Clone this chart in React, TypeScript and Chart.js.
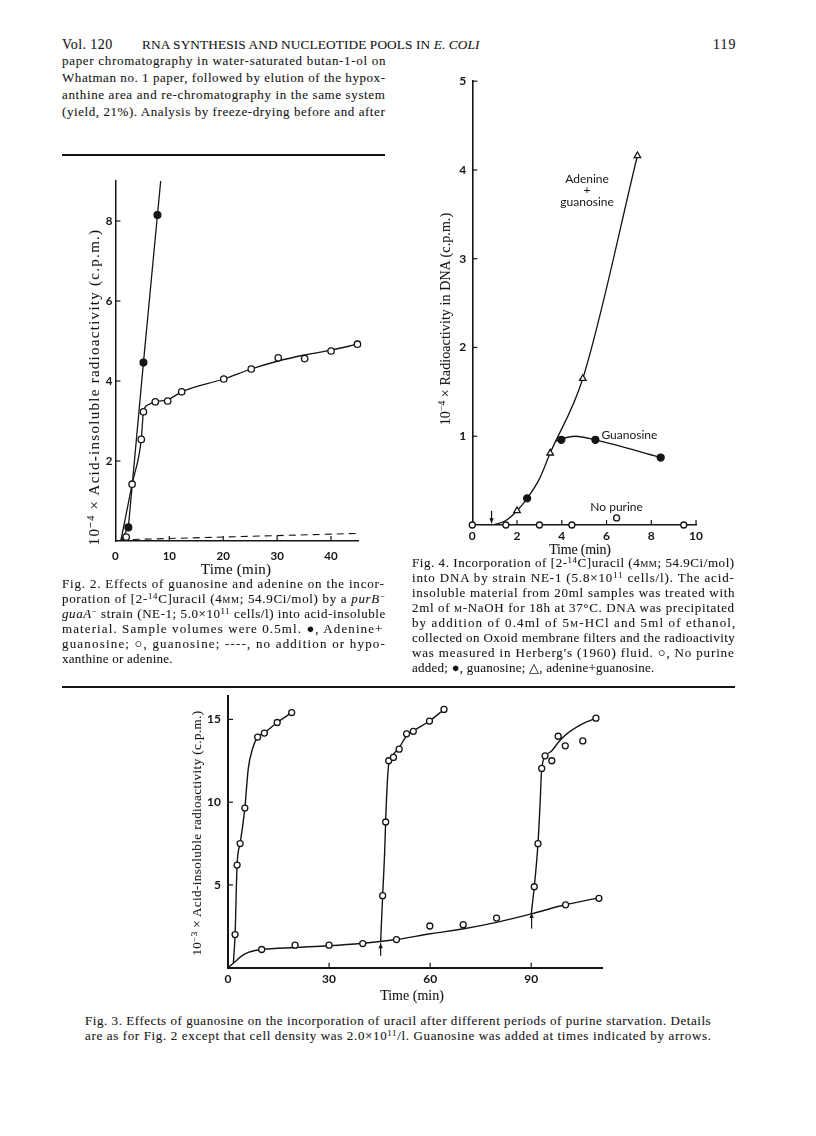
import React, { useEffect, useLayoutEffect, useRef, useState } from "react";
import { Chart, registerables } from "chart.js";

Chart.register(...registerables);

// ---------------- Fig. 2 data ----------------
const fig2XTicks = [0, 10, 20, 30, 40];
const fig2YTicks = [2, 4, 6, 8];
const fig2AdenineX = [2.4, 5.2, 7.8];
const fig2AdenineY = [0.34, 4.46, 8.15];
const fig2GuanosineX = [2.0, 3.1, 4.8, 5.2, 7.4, 9.7, 12.3, 20.1, 25.2, 30.2, 35.1, 40.0, 44.9];
const fig2GuanosineY = [0.1, 1.42, 2.54, 3.23, 3.48, 3.5, 3.73, 4.05, 4.3, 4.58, 4.56, 4.75, 4.92];
const fig2AdenineCurveX = [1.0, 2.4, 5.2, 7.8, 8.4];
const fig2AdenineCurveY = [0, 0.34, 4.46, 8.15, 9.0];
const fig2GuanosineCurveX = [1.0, 3.1, 4.8, 5.2, 6.0, 7.4, 9.7, 12.3, 20.1, 25.2, 30.2, 35.1, 40.0, 44.9];
const fig2GuanosineCurveY = [0, 1.42, 2.54, 3.23, 3.4, 3.48, 3.53, 3.73, 4.05, 4.3, 4.5, 4.65, 4.77, 4.92];
const fig2NoAdditionX = [1.0, 45];
const fig2NoAdditionY = [0.03, 0.19];

// ---------------- Fig. 4 data ----------------
const fig4XTicks = [0, 2, 4, 6, 8, 10];
const fig4YTicks = [1, 2, 3, 4, 5];
const fig4NoPurineX = [0, 1.5, 3.0, 4.45, 6.45, 9.45];
const fig4NoPurineY = [0, 0, 0, 0, 0.08, 0];
const fig4GuanosineX = [2.45, 3.98, 5.5, 8.42];
const fig4GuanosineY = [0.3, 0.96, 0.96, 0.76];
const fig4AdenGuanX = [2.0, 3.48, 4.94, 7.38];
const fig4AdenGuanY = [0.16, 0.81, 1.65, 4.16];
const fig4AdenGuanCurveX = [0.9, 1.5, 2.0, 2.45, 3.0, 3.48, 4.94, 7.38];
const fig4AdenGuanCurveY = [0, 0.05, 0.16, 0.3, 0.52, 0.81, 1.65, 4.16];
const fig4GuanosineCurveX = [3.7, 3.98, 4.6, 5.5, 8.42];
const fig4GuanosineCurveY = [0.94, 0.97, 1.0, 0.96, 0.76];
const fig4ArrowX = [0.86];
const fig4ArrowFrom = [0.16];
const fig4ArrowTo = [0.02];
const fig4LabelText = ["Adenine", "+", "guanosine", "Guanosine", "No purine"];
const fig4LabelX = [5.13, 5.13, 5.13, 7.02, 6.45];
const fig4LabelY = [3.9, 3.77, 3.64, 1.01, 0.2];

// ---------------- Fig. 3 data ----------------
const fig3XTicks = [0, 30, 60, 90];
const fig3YTicks = [5, 10, 15];
const fig3BaseX = [10.0, 19.9, 30.0, 40.0, 50.0, 59.9, 69.8, 79.7, 100.2, 110.1];
const fig3BaseY = [1.1, 1.36, 1.36, 1.46, 1.7, 2.52, 2.6, 3.0, 3.8, 4.19];
const fig3Added0X = [2.1, 2.7, 3.6, 5.0, 8.8, 10.8, 14.6, 18.9];
const fig3Added0Y = [2.0, 6.2, 7.5, 9.64, 13.93, 14.17, 14.81, 15.41];
const fig3Added45X = [45.9, 46.8, 47.7, 49.1, 50.8, 53.0, 55.0, 59.8, 64.1];
const fig3Added45Y = [4.35, 8.8, 12.5, 12.7, 13.2, 14.13, 14.28, 14.9, 15.6];
const fig3Added90X = [90.9, 92.0, 93.1, 94.1, 96.1, 98.0, 100.1, 105.3, 109.2];
const fig3Added90Y = [4.89, 7.49, 12.04, 12.8, 12.5, 13.98, 13.4, 13.7, 15.07];
const fig3BaseCurveX = [0, 2, 4, 6, 8, 10, 20, 30, 40, 45, 50, 60, 70, 80, 90, 100, 110];
const fig3BaseCurveY = [0, 0.35, 0.7, 0.92, 1.04, 1.1, 1.22, 1.33, 1.48, 1.58, 1.7, 2.05, 2.35, 2.75, 3.25, 3.8, 4.22];
const fig3Curve0X = [1.6, 2.1, 2.7, 3.6, 5.0, 6.0, 7.4, 8.8, 10.8, 14.6, 18.9];
const fig3Curve0Y = [0.3, 2.0, 6.2, 7.5, 9.64, 12.0, 13.3, 13.93, 14.2, 14.81, 15.41];
const fig3Curve45X = [45.3, 45.9, 46.5, 46.9, 47.7, 49.1, 50.8, 53.0, 55.0, 59.8, 64.1];
const fig3Curve45Y = [1.58, 4.35, 7.0, 9.5, 12.3, 12.9, 13.3, 14.0, 14.3, 14.9, 15.6];
const fig3Curve90X = [90.0, 90.9, 92.0, 92.6, 93.1, 94.5, 96.1, 98.0, 100.1, 104.9, 109.2];
const fig3Curve90Y = [3.25, 4.89, 7.49, 9.8, 12.0, 12.85, 13.1, 13.6, 14.05, 14.7, 15.07];
const fig3ArrowX = [45.3, 90.1];
const fig3ArrowFrom = [0.72, 2.36];
const fig3ArrowTo = [1.48, 3.3];

// ---------------- helpers ----------------
const ink = "#151515";
const serif = '"Liberation Serif", "DejaVu Serif", serif';
const sans = 'Lato, "Open Sans", "DejaVu Sans", sans-serif';

const pts = (xs: number[], ys: number[]) => xs.map((x, i) => ({ x, y: ys[i] }));

function pointSet(xs: number[], ys: number[], kind: "open" | "filled" | "triangle", r = 3.2) {
  return {
    data: pts(xs, ys),
    showLine: false,
    pointStyle: kind === "triangle" ? "triangle" : "circle",
    pointRadius: r,
    pointBackgroundColor: kind === "filled" ? ink : "#ffffff",
    pointBorderColor: ink,
    pointBorderWidth: 1.3,
    clip: 10,
    order: 1,
  };
}

function lineSet(xs: number[], ys: number[], smooth = true, dash: number[] = [], width = 1.3) {
  return {
    data: pts(xs, ys),
    showLine: true,
    pointRadius: 0,
    borderColor: ink,
    borderWidth: width,
    borderDash: dash,
    cubicInterpolationMode: smooth ? "monotone" : "default",
    tension: 0,
    fill: false,
    order: 2,
  };
}

const innerTicks = {
  id: "innerTicks",
  afterDatasetsDraw(chart: any, _args: any, opts: any) {
    const { ctx, chartArea } = chart;
    const xs = chart.scales.x;
    const ys = chart.scales.y;
    ctx.save();
    ctx.strokeStyle = ink;
    ctx.lineWidth = opts.width || 1.2;
    const len = opts.len || 5;
    for (const t of xs.ticks) {
      if (t.value === xs.min) continue;
      const px = xs.getPixelForValue(t.value);
      ctx.beginPath();
      ctx.moveTo(px, chartArea.bottom);
      ctx.lineTo(px, chartArea.bottom - len);
      ctx.stroke();
    }
    for (const t of ys.ticks) {
      if (t.value === ys.min) continue;
      const py = ys.getPixelForValue(t.value);
      ctx.beginPath();
      ctx.moveTo(chartArea.left, py);
      ctx.lineTo(chartArea.left + len, py);
      ctx.stroke();
    }
    ctx.restore();
  },
};

const arrowsPlugin = {
  id: "arrows",
  afterDatasetsDraw(chart: any, _args: any, opts: any) {
    const items = (opts && opts.items) || [];
    if (!items.length) return;
    const { ctx } = chart;
    const xs = chart.scales.x;
    const ys = chart.scales.y;
    ctx.save();
    ctx.strokeStyle = ink;
    ctx.fillStyle = ink;
    ctx.lineWidth = 1.2;
    for (const a of items) {
      const px = xs.getPixelForValue(a.x);
      const y1 = ys.getPixelForValue(a.from);
      const y2 = ys.getPixelForValue(a.to);
      const dir = y2 > y1 ? 1 : -1;
      ctx.beginPath();
      ctx.moveTo(px, y1);
      ctx.lineTo(px, y2);
      ctx.stroke();
      ctx.beginPath();
      ctx.moveTo(px, y2);
      ctx.lineTo(px - 2.2, y2 - dir * 5);
      ctx.lineTo(px + 2.2, y2 - dir * 5);
      ctx.closePath();
      ctx.fill();
    }
    ctx.restore();
  },
};

const textsPlugin = {
  id: "texts",
  afterDatasetsDraw(chart: any, _args: any, opts: any) {
    const items = (opts && opts.items) || [];
    if (!items.length) return;
    const { ctx } = chart;
    const xs = chart.scales.x;
    const ys = chart.scales.y;
    ctx.save();
    ctx.fillStyle = ink;
    ctx.font = opts.font;
    ctx.textAlign = "center";
    ctx.textBaseline = "middle";
    for (const t of items) {
      ctx.fillText(t.text, xs.getPixelForValue(t.x), ys.getPixelForValue(t.y));
    }
    ctx.restore();
  },
};

function buildConfig(spec: any) {
  const tickFont = { family: sans, size: spec.tickSize, weight: "bold" };
  return {
    type: "scatter",
    data: { datasets: spec.datasets },
    plugins: [innerTicks, arrowsPlugin, textsPlugin],
    options: {
      animation: false,
      responsive: false,
      maintainAspectRatio: false,
      devicePixelRatio: 1,
      events: [],
      layout: { padding: { top: spec.padTop, right: spec.padRight, left: 0, bottom: 0 } },
      plugins: {
        legend: { display: false },
        tooltip: { enabled: false },
        innerTicks: { len: 5, width: 1.2 },
        arrows: { items: spec.arrows || [] },
        texts: { items: spec.texts || [], font: `12px ${sans}` },
      },
      scales: {
        x: {
          type: "linear",
          min: spec.xMin,
          max: spec.xMax,
          grid: { display: false, drawTicks: false },
          border: { display: true, color: ink, width: spec.axisWidth },
          ticks: { padding: spec.xPad, font: tickFont, color: ink, maxRotation: 0, autoSkip: false },
          afterBuildTicks: (s: any) => {
            s.ticks = spec.xTicks.map((v: number) => ({ value: v }));
          },
          afterFit: (s: any) => {
            s.height = spec.xH;
          },
        },
        y: {
          type: "linear",
          min: spec.yMin,
          max: spec.yMax,
          grid: { display: false, drawTicks: false },
          border: { display: true, color: ink, width: spec.axisWidth },
          ticks: { padding: spec.yPad, font: tickFont, color: ink, autoSkip: false },
          afterBuildTicks: (s: any) => {
            s.ticks = spec.yTicks.map((v: number) => ({ value: v }));
          },
          afterFit: (s: any) => {
            s.width = spec.yW;
          },
        },
      },
    },
  };
}

function ChartBox(props: { left: number; top: number; width: number; height: number; make: () => any }) {
  const ref = useRef<HTMLCanvasElement>(null);
  useEffect(() => {
    const chart = new Chart(ref.current as HTMLCanvasElement, props.make());
    return () => chart.destroy();
  }, []);
  return (
    <canvas
      ref={ref}
      width={props.width}
      height={props.height}
      style={{ position: "absolute", left: props.left, top: props.top, width: props.width, height: props.height }}
    />
  );
}

const fig2Config = () =>
  buildConfig({
    datasets: [
      pointSet(fig2AdenineX, fig2AdenineY, "filled", 3.4),
      pointSet(fig2GuanosineX, fig2GuanosineY, "open", 3.2),
      lineSet(fig2AdenineCurveX, fig2AdenineCurveY, false),
      lineSet(fig2GuanosineCurveX, fig2GuanosineCurveY, true),
      lineSet(fig2NoAdditionX, fig2NoAdditionY, false, [7, 5], 1.1),
    ],
    xMin: 0, xMax: 45, yMin: 0, yMax: 9,
    xTicks: fig2XTicks, yTicks: fig2YTicks,
    padTop: 11, padRight: 7, xH: 39, yW: 27.4,
    xPad: 8, yPad: 3, tickSize: 11.5, axisWidth: 1.5,
  });

const fig4Config = () =>
  buildConfig({
    datasets: [
      pointSet(fig4NoPurineX, fig4NoPurineY, "open", 3),
      pointSet(fig4GuanosineX, fig4GuanosineY, "filled", 3.5),
      pointSet(fig4AdenGuanX, fig4AdenGuanY, "triangle", 3.8),
      lineSet(fig4AdenGuanCurveX, fig4AdenGuanCurveY, true),
      lineSet(fig4GuanosineCurveX, fig4GuanosineCurveY, true),
    ],
    xMin: 0, xMax: 10, yMin: 0, yMax: 5,
    xTicks: fig4XTicks, yTicks: fig4YTicks,
    padTop: 12, padRight: 9.3, xH: 20, yW: 22.3,
    xPad: 4, yPad: 6, tickSize: 12, axisWidth: 1.6,
    arrows: fig4ArrowX.map((x, i) => ({ x, from: fig4ArrowFrom[i], to: fig4ArrowTo[i] })),
    texts: fig4LabelText.map((text, i) => ({ text, x: fig4LabelX[i], y: fig4LabelY[i] })),
  });

const fig3Config = () =>
  buildConfig({
    datasets: [
      pointSet(fig3BaseX, fig3BaseY, "open", 3),
      pointSet(fig3Added0X, fig3Added0Y, "open", 3),
      pointSet(fig3Added45X, fig3Added45Y, "open", 3),
      pointSet(fig3Added90X, fig3Added90Y, "open", 3),
      lineSet(fig3BaseCurveX, fig3BaseCurveY, true, [], 1.4),
      lineSet(fig3Curve0X, fig3Curve0Y, true, [], 1.4),
      lineSet(fig3Curve45X, fig3Curve45Y, true, [], 1.4),
      lineSet(fig3Curve90X, fig3Curve90Y, true, [], 1.4),
    ],
    xMin: 0, xMax: 111, yMin: 0, yMax: 16.4,
    xTicks: fig3XTicks, yTicks: fig3YTicks,
    padTop: 11.8, padRight: 8, xH: 22.3, yW: 36,
    xPad: 4, yPad: 7, tickSize: 12, axisWidth: 2,
    arrows: fig3ArrowX.map((x, i) => ({ x, from: fig3ArrowFrom[i], to: fig3ArrowTo[i] })),
  });

// ---------------- text helpers ----------------
const Sup = ({ children }: { children: any }) => (
  <sup style={{ fontSize: "0.68em", verticalAlign: "0.5em", lineHeight: 0 }}>{children}</sup>
);
const SC = ({ children }: { children: any }) => <span style={{ fontVariant: "small-caps" }}>{children}</span>;
const I = ({ children }: { children: any }) => <i>{children}</i>;

// stretches (or squeezes) one line of text to a target width with letter-spacing
function useFit(target: number | undefined, fallback: number) {
  const ref = useRef<HTMLSpanElement>(null);
  const [ls, setLs] = useState<number | null>(null);
  useLayoutEffect(() => {
    const el = ref.current;
    if (!el || target === undefined) return;
    const nat = el.offsetWidth;
    const n = Math.max((el.textContent || "").length - 1, 1);
    setLs((target - nat) / n);
  }, []);
  return { ref, ls: target === undefined ? fallback : ls === null ? 0 : ls };
}

function TLine(props: { x: number; y: number; w: number; justify?: boolean; size?: number; children: any }) {
  const j = props.justify !== false;
  const { ref, ls } = useFit(j ? props.w : undefined, 0.25);
  const size = props.size || 13;
  return (
    <div
      style={{
        position: "absolute",
        left: props.x,
        top: props.y - 8,
        height: 16,
        lineHeight: "16px",
        fontSize: size,
        whiteSpace: "nowrap",
        WebkitTextStroke: "0.1px " + ink,
      } as any}
    >
      <span ref={ref} style={{ display: "inline-block", letterSpacing: ls }}>
        {props.children}
      </span>
    </div>
  );
}

function AxisTitle(props: { cx: number; cy: number; size: number; len: number; children: any }) {
  const { ref, ls } = useFit(props.len, 0);
  return (
    <div style={{ position: "absolute", left: props.cx, top: props.cy, width: 0, height: 0 }}>
      <span
        ref={ref}
        style={{
          position: "absolute",
          left: 0,
          top: 0,
          display: "inline-block",
          whiteSpace: "nowrap",
          fontSize: props.size,
          lineHeight: "18px",
          letterSpacing: ls,
          transform: "translate(-50%, -50%)",
          WebkitTextStroke: "0.1px " + ink,
        } as any}
      >
        {props.children}
      </span>
    </div>
  );
}

function Rotated(props: { cx: number; cy: number; children: any }) {
  return (
    <div style={{ position: "absolute", left: props.cx, top: props.cy, transform: "rotate(-90deg)", width: 0, height: 0 }}>
      {props.children}
    </div>
  );
}

const L = 62;
const LW = 323;
const R = 412;
const RW = 323;
const CAP = 15;

export default function App() {
  const f2 = 584;
  const f4 = 563;
  return (
    <div
      style={{
        position: "absolute",
        left: 0,
        top: 0,
        width: 816,
        height: 1136,
        background: "#ffffff",
        color: ink,
        fontFamily: serif,
        overflow: "hidden",
      }}
    >
      {/* running header */}
      <TLine x={L} y={45} w={50} size={14}>Vol. 120</TLine>
      <TLine x={142} y={45} w={337} size={13.3}>
        RNA SYNTHESIS AND NUCLEOTIDE POOLS IN <i>E. COLI</i>
      </TLine>
      <TLine x={713} y={45} w={22} size={14}>119</TLine>

      {/* body text, left column */}
      <TLine x={L} y={61} w={LW}>paper chromatography in water-saturated butan-1-ol on</TLine>
      <TLine x={L} y={78} w={LW}>Whatman no. 1 paper, followed by elution of the hypox-</TLine>
      <TLine x={L} y={95} w={LW}>anthine area and re-chromatography in the same system</TLine>
      <TLine x={L} y={112} w={LW}>(yield, 21%).  Analysis by freeze-drying before and after</TLine>
      <div style={{ position: "absolute", left: L, top: 154, width: LW, height: 2, background: ink }} />

      {/* charts */}
      <ChartBox left={88} top={170} width={277} height={410} make={fig2Config} />
      <ChartBox left={450} top={68} width={257} height={477} make={fig4Config} />
      <ChartBox left={192} top={682} width={418} height={308} make={fig3Config} />

      {/* axis titles */}
      <Rotated cx={94} cy={387}>
        <AxisTitle cx={0} cy={0} size={15} len={316}>
          10<Sup>−4</Sup> × Acid-insoluble radioactivity (c.p.m.)
        </AxisTitle>
      </Rotated>
      <AxisTitle cx={236} cy={569} size={15} len={70}>Time (min)</AxisTitle>
      <Rotated cx={446} cy={319}>
        <AxisTitle cx={0} cy={0} size={14} len={212}>
          10<Sup>−4</Sup> × Radioactivity in DNA (c.p.m.)
        </AxisTitle>
      </Rotated>
      <AxisTitle cx={580} cy={550} size={14} len={62}>Time (min)</AxisTitle>
      <Rotated cx={197} cy={833}>
        <AxisTitle cx={0} cy={0} size={13} len={245}>
          10<Sup>−3</Sup> × Acid-insoluble radioactivity (c.p.m.)
        </AxisTitle>
      </Rotated>
      <AxisTitle cx={412} cy={996} size={14} len={64}>Time (min)</AxisTitle>

      {/* Fig. 2 caption */}
      <TLine x={L} y={f2} w={LW}>Fig. 2.  Effects of guanosine and adenine on the incor-</TLine>
      <TLine x={L} y={f2 + CAP} w={LW}>
        poration of [2-<Sup>14</Sup>C]uracil (4<SC>µm</SC>; 54.9Ci/mol) by a <I>purB</I><Sup>−</Sup>
      </TLine>
      <TLine x={L} y={f2 + 2 * CAP} w={LW}>
        <I>guaA</I><Sup>−</Sup> strain (NE-1; 5.0×10<Sup>11</Sup> cells/l) into acid-insoluble
      </TLine>
      <TLine x={L} y={f2 + 3 * CAP} w={LW}>material.  Sample volumes were 0.5ml.  ●, Adenine+</TLine>
      <TLine x={L} y={f2 + 4 * CAP} w={LW}>guanosine; ○, guanosine; ----, no addition or hypo-</TLine>
      <TLine x={L} y={f2 + 5 * CAP} w={LW} justify={false}>xanthine or adenine.</TLine>

      {/* Fig. 4 caption */}
      <TLine x={R} y={f4} w={RW}>
        Fig. 4.  Incorporation of [2-<Sup>14</Sup>C]uracil (4<SC>µm</SC>; 54.9Ci/mol)
      </TLine>
      <TLine x={R} y={f4 + CAP} w={RW}>
        into DNA by strain NE-1 (5.8×10<Sup>11</Sup> cells/l).  The acid-
      </TLine>
      <TLine x={R} y={f4 + 2 * CAP} w={RW}>insoluble material from 20ml samples was treated with</TLine>
      <TLine x={R} y={f4 + 3 * CAP} w={RW}>
        2ml of <SC>m</SC>-NaOH for 18h at 37°C.  DNA was precipitated
      </TLine>
      <TLine x={R} y={f4 + 4 * CAP} w={RW}>
        by addition of 0.4ml of 5<SC>m</SC>-HCl and 5ml of ethanol,
      </TLine>
      <TLine x={R} y={f4 + 5 * CAP} w={RW}>collected on Oxoid membrane filters and the radioactivity</TLine>
      <TLine x={R} y={f4 + 6 * CAP} w={RW}>was measured in Herberg's (1960) fluid.  ○, No purine</TLine>
      <TLine x={R} y={f4 + 7 * CAP} w={RW} justify={false}>added; ●, guanosine; △, adenine+guanosine.</TLine>

      <div style={{ position: "absolute", left: L, top: 686, width: 673, height: 2, background: ink }} />

      {/* Fig. 3 caption */}
      <TLine x={85} y={1021} w={627}>
        Fig. 3.  Effects of guanosine on the incorporation of uracil after different periods of purine starvation.  Details
      </TLine>
      <TLine x={85} y={1036} w={627}>
        are as for Fig. 2 except that cell density was 2.0×10<Sup>11</Sup>/l.  Guanosine was added at times indicated by arrows.
      </TLine>
    </div>
  );
}
